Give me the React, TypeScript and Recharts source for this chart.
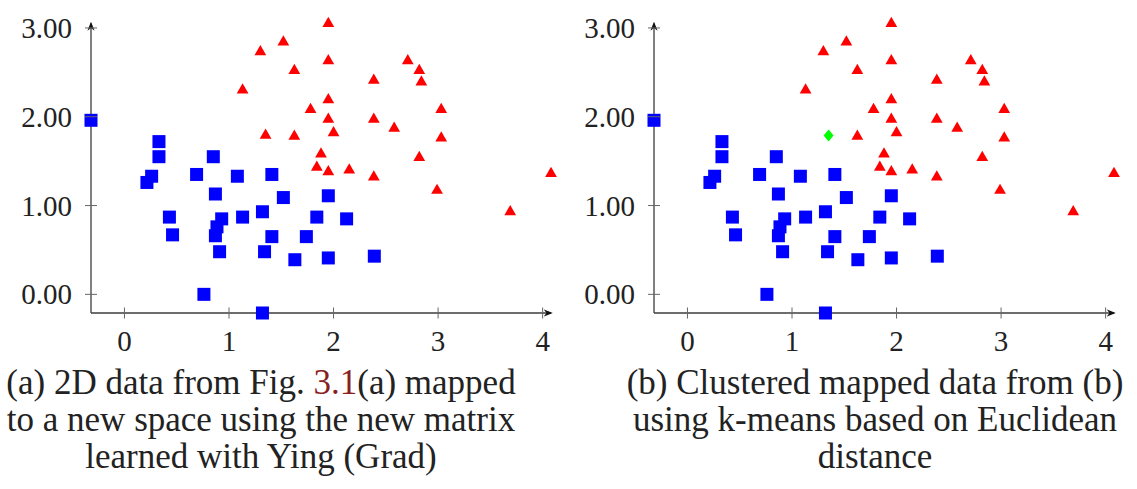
import React from "react";
import { ScatterChart, Scatter, XAxis, YAxis } from "recharts";

const xTicks = [0, 1, 2, 3, 4];
const yTicks = [0, 1, 2, 3];

// cluster 1 (squares)
const bluePoints = [
  { x: -0.32, y: 1.96 }, { x: 0.33, y: 1.72 }, { x: 0.33, y: 1.55 }, { x: 0.26, y: 1.33 },
  { x: 0.215, y: 1.26 }, { x: 0.69, y: 1.35 }, { x: 0.85, y: 1.55 }, { x: 0.87, y: 1.13 },
  { x: 1.08, y: 1.33 }, { x: 1.41, y: 1.35 }, { x: 1.52, y: 1.09 }, { x: 1.95, y: 1.11 },
  { x: 0.43, y: 0.87 }, { x: 0.46, y: 0.67 }, { x: 0.93, y: 0.85 }, { x: 0.885, y: 0.76 },
  { x: 0.87, y: 0.66 }, { x: 0.91, y: 0.48 }, { x: 1.13, y: 0.87 }, { x: 1.32, y: 0.93 },
  { x: 1.41, y: 0.65 }, { x: 1.34, y: 0.48 }, { x: 1.63, y: 0.39 }, { x: 1.74, y: 0.65 },
  { x: 1.84, y: 0.87 }, { x: 2.125, y: 0.85 }, { x: 1.95, y: 0.41 }, { x: 2.39, y: 0.43 },
  { x: 0.76, y: 0.0 }, { x: 1.32, y: -0.21 },
];

// cluster 2 (triangles)
const redPoints = [
  { x: 1.95, y: 3.05 }, { x: 1.52, y: 2.84 }, { x: 1.3, y: 2.73 }, { x: 1.95, y: 2.63 },
  { x: 1.625, y: 2.52 }, { x: 1.13, y: 2.3 }, { x: 2.71, y: 2.63 }, { x: 2.82, y: 2.52 },
  { x: 2.84, y: 2.39 }, { x: 2.385, y: 2.41 }, { x: 1.95, y: 2.19 }, { x: 1.78, y: 2.08 },
  { x: 3.03, y: 2.08 }, { x: 1.95, y: 1.97 }, { x: 2.385, y: 1.97 }, { x: 2.58, y: 1.87 },
  { x: 2.0, y: 1.82 }, { x: 1.625, y: 1.78 }, { x: 3.03, y: 1.76 }, { x: 1.88, y: 1.58 },
  { x: 2.82, y: 1.54 }, { x: 1.84, y: 1.43 }, { x: 1.95, y: 1.38 }, { x: 2.15, y: 1.4 },
  { x: 2.385, y: 1.32 }, { x: 2.99, y: 1.17 }, { x: 4.08, y: 1.36 }, { x: 3.69, y: 0.93 },
];

// the point that turns green in the clustered plot
const greenPoints = [{ x: 1.35, y: 1.79 }];

const captionA = ["to a new space using the new matrix", "learned with Ying (Grad)"];
const captionB = [
  "(b) Clustered mapped data from (b)",
  "using k-means based on Euclidean",
  "distance",
];

const serif = "'Liberation Serif', 'Times New Roman', serif";
const axisColor = "#3c3c3c";

const YTick = (props: any) => {
  const { x, y, payload } = props;
  return (
    <g>
      <line x1={x - 6} x2={x + 6} y1={y} y2={y} stroke="#666" strokeWidth={1} />
      <text x={x - 19} y={y + 10} textAnchor="end" fontFamily={serif} fontSize={29} fill="#222">
        {payload.value.toFixed(2)}
      </text>
    </g>
  );
};

const XTick = (props: any) => {
  const { x, y, payload } = props;
  return (
    <g>
      <line x1={x} x2={x} y1={y - 5.5} y2={y + 5.5} stroke="#666" strokeWidth={1} />
      <text x={x} y={y + 38} textAnchor="middle" fontFamily={serif} fontSize={29} fill="#222">
        {payload.value}
      </text>
    </g>
  );
};

const Square = (p: any) => (
  <rect x={p.cx - 6.5} y={p.cy - 6.5} width={13} height={13} fill="#0000ff" />
);

const Triangle = (p: any) => {
  const r = 6.8;
  const h = r * 0.866;
  return (
    <polygon
      points={`${p.cx},${p.cy - r} ${p.cx - h},${p.cy + r / 2} ${p.cx + h},${p.cy + r / 2}`}
      fill="#ff0000"
    />
  );
};

const Diamond = (p: any) => (
  <polygon
    points={`${p.cx},${p.cy - 6} ${p.cx + 5},${p.cy} ${p.cx},${p.cy + 6} ${p.cx - 5},${p.cy}`}
    fill="#00ff00"
  />
);

function Panel({ left, clustered }: { left: number; clustered: boolean }) {
  const reds = clustered ? redPoints : [...redPoints, ...greenPoints];
  return (
    <div style={{ position: "absolute", left, top: 0 }}>
      <ScatterChart width={563} height={370} margin={{ top: 23.5, right: 12, bottom: 0, left: 0 }}>
        <XAxis
          type="number"
          dataKey="x"
          domain={[-0.32, 4.08]}
          ticks={xTicks}
          interval={0}
          height={57}
          tickSize={0}
          tickMargin={0}
          tickLine={false}
          tick={XTick}
          axisLine={{ stroke: axisColor, strokeWidth: 1.3, markerEnd: "url(#arrowHead)" }}
        />
        <YAxis
          type="number"
          dataKey="y"
          domain={[-0.21, 3.05]}
          ticks={yTicks}
          interval={0}
          width={91}
          tickSize={0}
          tickMargin={0}
          tickLine={false}
          tick={YTick}
          axisLine={{ stroke: axisColor, strokeWidth: 1.3, markerStart: "url(#arrowHead)" }}
        />
        <Scatter data={bluePoints} shape={Square} isAnimationActive={false} />
        <Scatter data={reds} shape={Triangle} isAnimationActive={false} />
        {clustered && <Scatter data={greenPoints} shape={Diamond} isAnimationActive={false} />}
      </ScatterChart>
    </div>
  );
}

const captionStyle: React.CSSProperties = {
  position: "absolute",
  top: 364,
  width: 620,
  textAlign: "center",
  fontFamily: serif,
  fontSize: 35,
  lineHeight: "37px",
  color: "#222",
  whiteSpace: "nowrap",
};

export default function App() {
  return (
    <div
      style={{
        position: "absolute",
        left: 0,
        top: 0,
        width: 1137,
        height: 489,
        overflow: "hidden",
        background: "#fff",
      }}
    >
      <svg width={0} height={0} style={{ position: "absolute" }}>
        <defs>
          <marker
            id="arrowHead"
            viewBox="0 0 10 10"
            refX="8"
            refY="5"
            markerWidth="9"
            markerHeight="9"
            markerUnits="userSpaceOnUse"
            orient="auto-start-reverse"
          >
            <path d="M0,1 L10,5 L0,9 L3,5 z" fill="#111" />
          </marker>
        </defs>
      </svg>
      <Panel left={0} clustered={false} />
      <Panel left={563} clustered={true} />
      <div style={{ ...captionStyle, left: 261 - 310 }}>
        <div>
          (a) 2D data from Fig. <span style={{ color: "#8a1f1f" }}>3.1</span>(a) mapped
        </div>
        {captionA.map((line) => (
          <div key={line}>{line}</div>
        ))}
      </div>
      <div style={{ ...captionStyle, left: 875 - 310 }}>
        {captionB.map((line) => (
          <div key={line}>{line}</div>
        ))}
      </div>
    </div>
  );
}
